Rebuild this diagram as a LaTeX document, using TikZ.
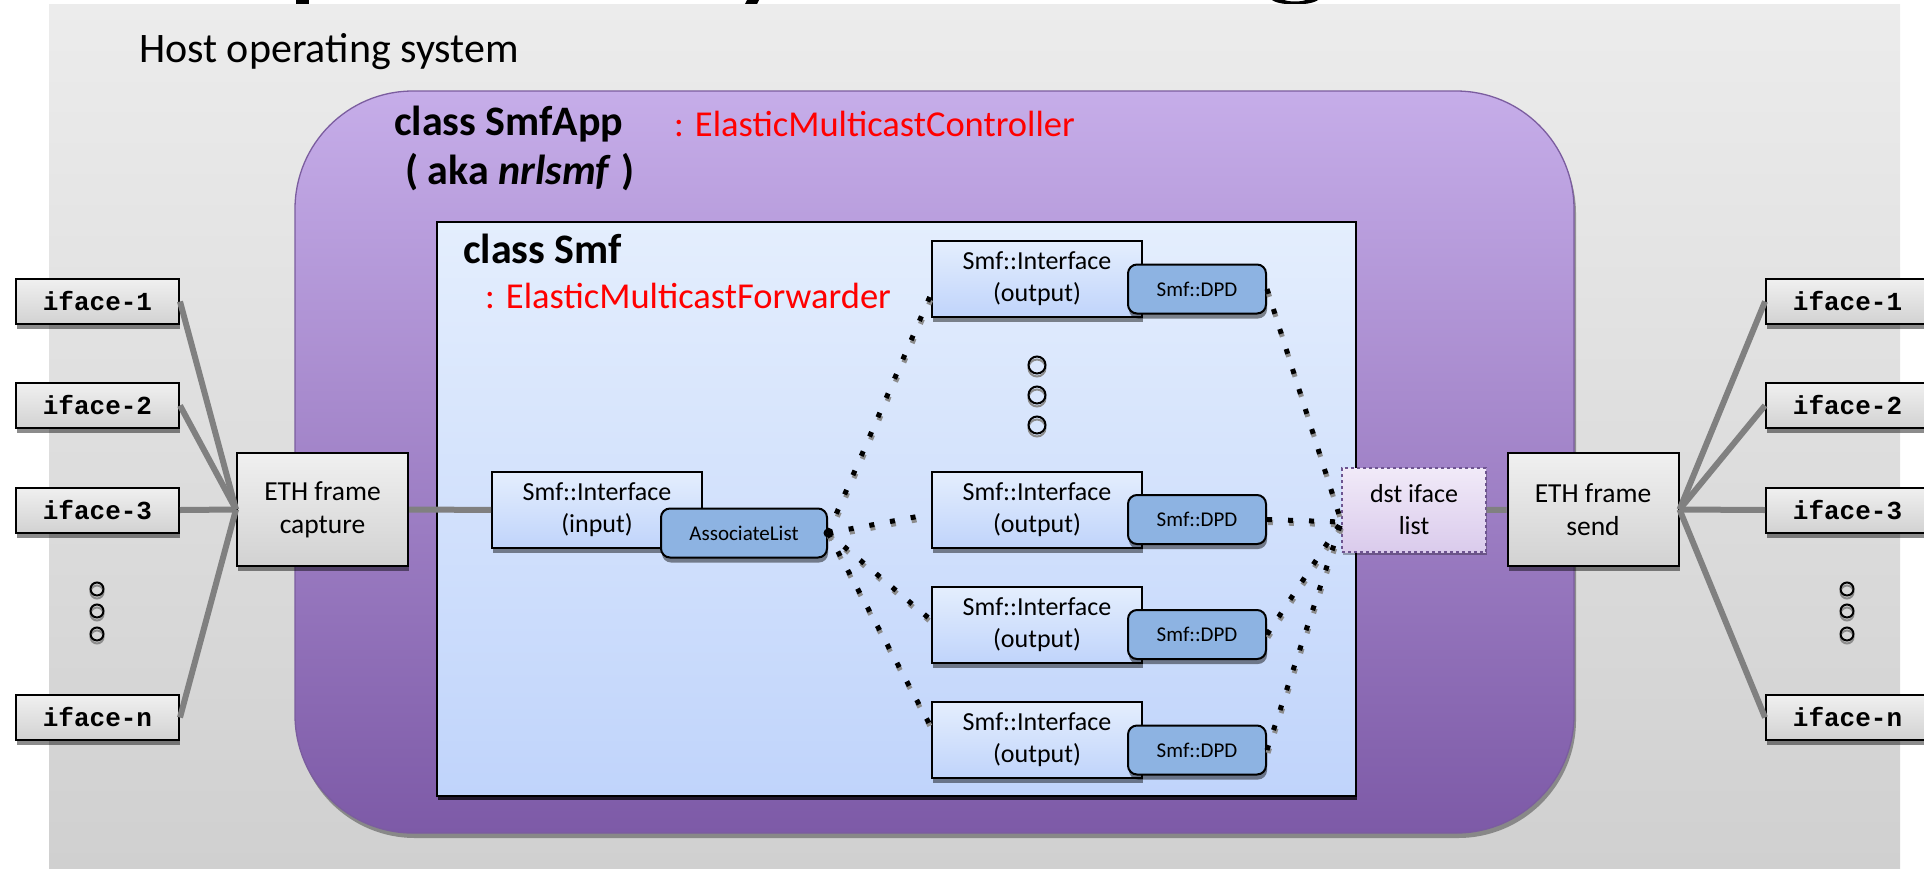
\documentclass[tikz,border=0pt]{standalone}
\usepackage{fontspec}
\setmainfont{Carlito}
\newfontfamily\ifacefont{Liberation Mono}
\usetikzlibrary{shadows}

\definecolor{bgtop}{HTML}{ECECEC}
\definecolor{bgbot}{HTML}{D0D0D0}
\definecolor{apptop}{HTML}{C6ADE9}
\definecolor{appbot}{HTML}{7D5AA7}
\definecolor{appedge}{HTML}{7B5D9F}
\definecolor{smftop}{HTML}{E4EEFD}
\definecolor{smfbot}{HTML}{C0D4FB}
\definecolor{boxtop}{HTML}{F0F0F0}
\definecolor{boxbot}{HTML}{D2D2D2}
\definecolor{dpdfill}{HTML}{8DB3E2}
\definecolor{dsttop}{HTML}{F1EAF8}
\definecolor{dstbot}{HTML}{DACBEC}
\definecolor{dstedge}{HTML}{6E5490}
\definecolor{wiregray}{HTML}{808080}
\definecolor{tagred}{HTML}{FF0000}

\begin{document}
\begin{tikzpicture}[x=1pt,y=-1pt,
  boxshadow/.style={drop shadow={shadow xshift=1pt,shadow yshift=-5pt,opacity=0.45,fill=black}},
  ifacebox/.style={draw=black,line width=2pt,top color=boxtop,bottom color=boxbot,
    minimum width=163pt,minimum height=45pt,inner sep=0pt,boxshadow,
    font=\ifacefont\bfseries\fontsize{26}{30}\selectfont},
  ethbox/.style={draw=black,line width=2pt,top color=boxtop,bottom color=boxbot,
    minimum width=171pt,minimum height=113pt,inner sep=0pt,align=center,boxshadow,
    font=\fontsize{27.5}{33}\selectfont},
  ifbox/.style={draw=black,line width=2pt,top color=smftop,bottom color=smfbot,
    minimum width=210pt,minimum height=76pt,inner sep=0pt,align=center,boxshadow,
    font=\fontsize{26}{32}\selectfont},
  tagbox/.style={draw=black,line width=2pt,rounded corners=9pt,fill=dpdfill,
    minimum height=49pt,inner sep=0pt,boxshadow,font=\fontsize{21}{25}\selectfont},
  dstbox/.style={draw=dstedge,dashed,line width=1.3pt,top color=dsttop,bottom color=dstbot,
    minimum width=144pt,minimum height=84pt,inner sep=0pt,align=center,
    drop shadow={shadow xshift=1pt,shadow yshift=-3pt,opacity=0.3,fill=black},
    font=\fontsize{26}{32}\selectfont},
  wire/.style={draw=wiregray,line width=6pt},
  dotline/.style={line width=5pt,dash pattern=on 5pt off 16pt,
    preaction={draw=black!45,line width=5pt,dash pattern=on 5pt off 16pt,
      transform canvas={shift={(1pt,-3pt)}}}},
  ellipsis/.style={draw=black,line width=2pt,
    preaction={draw=black!45,line width=2pt,transform canvas={shift={(0pt,-3pt)}}}},
  heading/.style={anchor=base west,inner sep=0pt,font=\bfseries\fontsize{42}{50}\selectfont},
  redtag/.style={anchor=base west,inner sep=0pt,text=tagred,font=\fontsize{36.5}{44}\selectfont}
]
\useasboundingbox (0,0) rectangle (1924,868);

% descenders of the page title above the slide
\fill (296,0) rectangle (309,4);
\fill (747,0) -- (759,0) -- (757,4) -- (745,4) -- cycle;
\fill (1272,0) .. controls (1280,6) and (1310,6) .. (1318,0) -- (1306,0)
  .. controls (1300,2) and (1290,2) .. (1284,0) -- cycle;

% host operating system backdrop
\path[top color=bgtop,bottom color=bgbot] (49,4) rectangle (1900,868);
\node[anchor=base west,inner sep=0pt,font=\fontsize{42}{50}\selectfont] (host) at (139,62) {Host operating system};

% SmfApp container
\path[draw=appedge,line width=1.3pt,top color=apptop,bottom color=appbot,rounded corners=118pt,
  drop shadow={shadow xshift=2pt,shadow yshift=-5pt,opacity=0.35,fill=black}]
  (295,91) rectangle (1574,833);
\node[heading] (apptitle) at (394,135) {class SmfApp};
\node[heading] (appaka) at (405,184) {( aka \textit{nrlsmf} )};
\node[redtag] (appbase) at (674,136) {: ElasticMulticastController};

% Smf container
\path[draw=black,line width=2pt,top color=smftop,bottom color=smfbot,
  drop shadow={shadow xshift=1pt,shadow yshift=-4pt,opacity=0.75,fill=black}]
  (437,222) rectangle (1356,796);
\node[heading] (smftitle) at (463,263) {class Smf};
\node[redtag] (smfbase) at (485,308) {: ElasticMulticastForwarder};

% physical interfaces
\node[ifacebox] (l1) at (97.5,301.5) {iface-1};
\node[ifacebox] (l2) at (97.5,405.5) {iface-2};
\node[ifacebox] (l3) at (97.5,510) {iface-3};
\node[ifacebox] (ln) at (97.5,717.5) {iface-n};
\node[ifacebox] (r1) at (1847.5,301.5) {iface-1};
\node[ifacebox] (r2) at (1847.5,405.5) {iface-2};
\node[ifacebox] (r3) at (1847.5,510) {iface-3};
\node[ifacebox] (rn) at (1847.5,717.5) {iface-n};
\foreach \y in {589,611,634} {
  \draw[ellipsis] (97,\y) circle (6.5);
  \draw[ellipsis] (1847,\y) circle (6.5);
}

% frame capture / send
\node[ethbox] (cap) at (322.5,509.5) {ETH frame\\capture};
\node[ethbox] (send) at (1593,509.5) {ETH frame\\send};
\node[dstbox] (dst) at (1414,510) {dst iface\\list};

% interfaces inside Smf
\node[ifbox] (in) at (597,510) {Smf::Interface\\(input)};
\node[tagbox,minimum width=166pt] (al) at (744,533) {AssociateList};
\node[ifbox] (o1) at (1037,279) {Smf::Interface\\(output)};
\node[ifbox] (o2) at (1037,510) {Smf::Interface\\(output)};
\node[ifbox] (o3) at (1037,625) {Smf::Interface\\(output)};
\node[ifbox] (o4) at (1037,740) {Smf::Interface\\(output)};
\node[tagbox,minimum width=138pt] (d1) at (1197,289) {Smf::DPD};
\node[tagbox,minimum width=138pt] (d2) at (1197,519.5) {Smf::DPD};
\node[tagbox,minimum width=138pt] (d3) at (1197,634.5) {Smf::DPD};
\node[tagbox,minimum width=138pt] (d4) at (1197,750) {Smf::DPD};
\foreach \y in {365,395,425} \draw[ellipsis] (1037,\y) circle (8.5);

% wiring
\draw[wire] (l1.east) -- (cap.west);
\draw[wire] (l2.east) -- (cap.west);
\draw[wire] (l3.east) -- (cap.west);
\draw[wire] (ln.east) -- (cap.west);
\draw[wire] (send.east) -- (r1.west);
\draw[wire] (send.east) -- (r2.west);
\draw[wire] (send.east) -- (r3.west);
\draw[wire] (send.east) -- (rn.west);
\draw[wire] (cap) -- (in);
\draw[wire] (dst) -- (send);

% fan-out of the associate list
\coordinate (hub) at ([yshift=-12pt]dst.west);
\fill (al.east) circle (4.5);
\draw[dotline] (al.east) -- ([yshift=-15pt]o1.west);
\draw[dotline] (al.east) -- ([yshift=-4pt]o2.west);
\draw[dotline] (al.east) -- ([yshift=5pt]o3.west);
\draw[dotline] (al.east) -- ([yshift=13pt]o4.west);
\draw[dotline] (d1.east) -- (hub);
\draw[dotline] (d2.east) -- (hub);
\draw[dotline] (d3.east) -- (hub);
\draw[dotline] (d4.east) -- (hub);
\end{tikzpicture}
\end{document}
